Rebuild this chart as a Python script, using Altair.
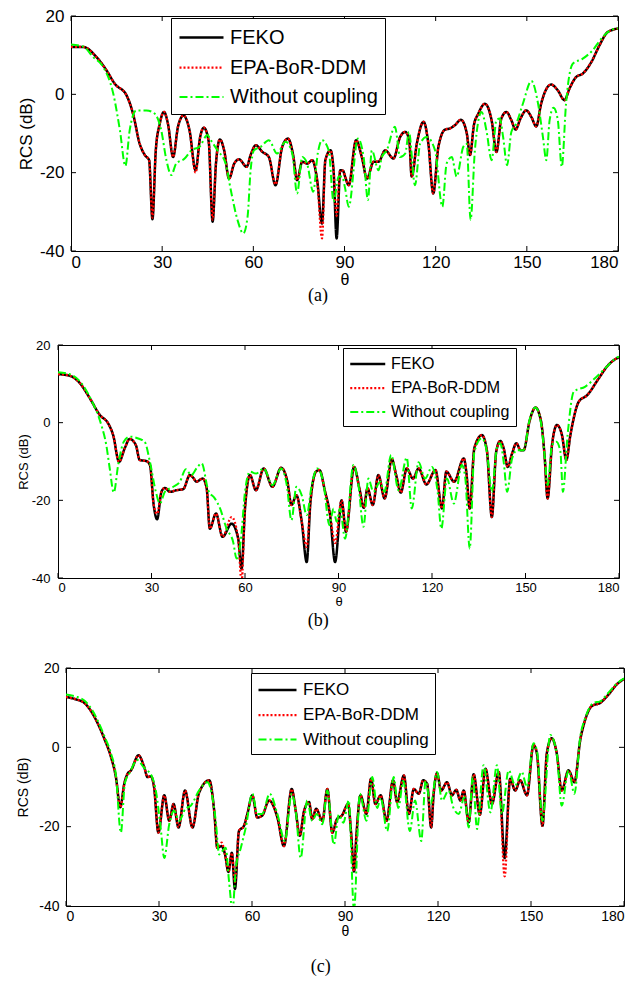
import altair as alt
import pandas as pd

SERIES = ["FEKO", "EPA-BoR-DDM", "Without coupling"]
COLORS = ["#000000", "#ff0000", "#00ff00"]
DASHES = [[1, 0], [2, 2], [8, 3, 2, 3]]
WIDTHS = [2.5, 2, 2]
X_TICKS = [0, 30, 60, 90, 120, 150, 180]
Y_TICKS = [-40, -20, 0, 20]

# ---------------- panel (a) ----------------
a_theta = [0, 4, 8.4, 11.7, 14.4, 18.3, 20.4, 22.6, 24.3, 25.7, 26.8, 27.9, 29.2, 30.6, 31.9, 33.6, 35.2, 37, 39, 41,
           42.5, 43.7, 45.3, 46.6, 47.7, 49, 50.4, 52, 53.7, 55.3, 57.8, 59.1, 60.8, 63, 65.1, 67.3, 69.5, 71.4, 73.1,
           74.4, 76.1, 77.7, 79.4, 81, 82.6, 83.7, 85.4, 86.4, 87.4, 88.6, 89.5, 90.2, 91.4, 93.8, 95.7, 97.4, 99.6,
           101.2, 103.4, 106.1, 108.3, 110, 111.3, 112.1, 113.8, 116, 117.6, 119.2, 120.9, 123.1, 124.7, 126.3, 128.3,
           130.2, 131.3, 132.6, 134, 136.2, 138.4, 140, 141.6, 143.3, 144.9, 146.3, 147.9, 149.8, 151.5, 153.1, 154.7,
           158, 160.2, 162.4, 164, 166.2, 168.4, 171.2, 173.9, 176.1, 178.3, 180]
a_feko = [12.1, 12.1, 9.5, 6.1, 2.7, -0.3, -4.9, -12.6, -15.5, -16.8, -31.9, -14.3, -7.5, -4.5, -7.5, -16, -8.3, -5.4,
          -9.2, -19.4, -10.9, -8.5, -12, -32.5, -17.7, -11.5, -14.3, -21.5, -17.7, -16.6, -18.5, -15.5, -13, -14.7, -16,
          -23.2, -13.4, -11.3, -15.5, -21.9, -17.2, -17.7, -16.8, -21.9, -33, -16.8, -14.3, -19.4, -36.8, -19.4, -19.5,
          -21, -23.2, -11.7, -16, -21.5, -17.2, -17.2, -14.3, -16.4, -10.9, -9.6, -11.7, -21, -12.6, -7, -12.6, -25.3,
          -13.4, -9, -8.7, -7.9, -6.5, -9.8, -15.5, -7.8, -5, -2.4, -6.6, -14.7, -6.2, -4.5, -6.6, -9, -6.2, -4.1, -5.8,
          -8.2, -2.4, 2.5, 1, -1.5, 1.4, 4.4, 5.3, 8.2, 12.5, 15.5, 16.5, 16.8]
a_epa = [12.1, 12.1, 9.5, 6.1, 2.7, -0.3, -4.9, -12.6, -15.5, -16.8, -31.5, -14.3, -7.5, -4.5, -7.5, -16, -8.3, -5.4,
         -9.2, -20, -10.9, -8.5, -12, -32, -17.7, -11.5, -14.3, -21.5, -17.7, -16.6, -18.5, -15.5, -13, -14.7, -16,
         -23, -13.4, -11.3, -15.5, -21.9, -17.2, -17.7, -16.8, -21.9, -36.8, -16.8, -14.3, -19.4, -31, -19.4, -19.5,
         -21, -23.2, -11.7, -16, -21.5, -17.2, -17.2, -14.3, -16.4, -10.9, -9.6, -11.7, -21, -12.6, -7, -12.6, -25.3,
         -13.4, -9, -8.7, -7.9, -6.5, -9.8, -15.5, -7.8, -5, -2.4, -6.6, -14.7, -6.2, -4.5, -6.6, -9, -6.2, -4.1, -5.8,
         -8.2, -2.4, 2.5, 1, -1.5, 1.4, 4.4, 5.3, 8.2, 12.5, 15.5, 16.5, 16.8]
a_wc_theta = [0, 4, 7.3, 10.6, 13.9, 16.1, 17.9, 19.3, 21.5, 24.8, 27.5, 29.7, 31.4, 33, 34.6, 37.4, 39.6, 42.3, 44.9,
              46, 48.2, 50.9, 52.6, 54.8, 56.7, 58.1, 59.1, 60.2, 62.4, 65.1, 67.8, 70.6, 72.8, 74.4, 76.1, 77.7, 79.7,
              81.2, 82.6, 84.8, 86.4, 88.1, 89.2, 90.2, 91.4, 94.4, 96.3, 97.7, 99, 101.2, 102.3, 103.9, 106.6, 108.3,
              110, 111.2, 113.2, 114.9, 117, 119.8, 122.2, 123.6, 125.3, 126.9, 129.1, 130.2, 131.5, 132.9, 135.1,
              136.7, 138.4, 140, 141.1, 142.2, 143.5, 144.9, 146.5, 148.7, 151.5, 153.7, 155.3, 156.4, 157.5, 158.8,
              160.2, 161.5, 162.9, 165.1, 168.4, 171.6, 174.9, 178.2, 180]
a_wc = [12.7, 12.2, 9.5, 7, 0.2, -9.2, -18.3, -9.2, -4.1, -4.1, -4.9, -9.2, -16.8, -20.6, -17.7, -16.4, -14.3, -13.4,
        -10.4, -11.7, -14.3, -17.7, -24.5, -32.1, -35.5, -31.3, -19.4, -14.3, -13.4, -11.7, -15.1, -12.1, -15.1, -25.3,
        -16, -17.7, -24.9, -15.1, -11.7, -14.3, -27.4, -21, -21, -24, -28.7, -11.3, -16, -27, -14.3, -19.4, -16, -14.3,
        -8.3, -16, -15.1, -9.6, -23.2, -12.6, -10.9, -14.3, -28.7, -17.7, -16, -21, -13.4, -12.6, -32, -14.3, -4.5,
        -9.2, -16.8, -6.6, -6.2, -10.9, -18.1, -9.6, -7.5, -2.4, 3.4, -2.4, -10.9, -16.8, -6.6, -3.4, -6.6, -18.5,
        -2.4, 7.8, 9.1, 11.2, 14.6, 16.6, 16.8]

# ---------------- panel (b) ----------------
b_theta = [0, 3.7, 7, 10.2, 13.4, 16.1, 17.7, 19.6, 21.4, 23, 25, 26.2, 28.4, 29.5, 30.7, 31.8, 33.2, 34.3, 35.9, 38,
           40.2, 42.3, 43.4, 44.4, 46.4, 47.7, 48.7, 50.7, 52.8, 55.7, 57.8, 58.9, 60, 61.6, 63.5, 66, 68.8, 71.6,
           73.6, 74.9, 76.5, 78.2, 79.8, 81, 82.8, 83.9, 85.7, 87.3, 88.9, 91, 92.4, 95, 96.7, 98.1, 99.3, 101, 102.8,
           104.8, 107.1, 108.5, 110, 111.9, 113.9, 115.7, 118.2, 121.1, 123.2, 124.6, 127.1, 130.2, 131, 132.1, 133.6,
           136, 137.6, 139.2, 140.6, 141.9, 143, 144.3, 145.7, 147.1, 148.4, 149.4, 151.3, 153.2, 155, 156.1, 157.1,
           158.5, 160.1, 161.7, 163.1, 164.4, 167.1, 169.8, 173.5, 176.2, 179.4, 180]
b_feko = [12.5, 12.1, 10.2, 6.3, 2, -0.2, -3.2, -10.1, -6.6, -4.2, -5.8, -9.6, -9.9, -10.9, -21.2, -24.9, -17.8, -16.8,
          -17.8, -17.4, -17.1, -13.5, -14.2, -15.2, -14.4, -16.9, -27.3, -23.4, -29.4, -26, -29.8, -37.6, -22.1, -13.5,
          -17.4, -11.8, -16.5, -11.6, -15.2, -21.2, -18.7, -25.5, -35.9, -20.4, -12.6, -12.2, -17.8, -23.8, -35.9, -20,
          -28.1, -11.4, -16.9, -21.9, -16.9, -21.2, -13.5, -19.5, -9.4, -13.5, -18, -11.8, -14.4, -11.8, -15.9, -12.2,
          -22.1, -12.6, -15.2, -9.2, -12.6, -22.1, -6.5, -3.2, -7.1, -24.3, -7.5, -4.7, -6.6, -11.4, -7.9, -5.3, -7.1,
          -7.1, 0.4, 3.9, 0.3, -8.3, -19.5, -5.8, -0.6, -3.2, -9.6, -3.2, 5.4, 7.1, 11.4, 14.5, 16.6, 16.8]
b_epa = [12.5, 12.1, 10.2, 6.3, 2, -0.2, -3.2, -10.1, -6.6, -4.2, -5.8, -9.6, -9.9, -10.9, -21.2, -23.5, -17.8, -16.8,
         -17.8, -17.4, -17.1, -13.5, -14.2, -15.2, -14.4, -16.9, -27.3, -23.4, -29.4, -24.3, -29.8, -41, -22.1, -13.5,
         -17.4, -11.8, -16.5, -11.6, -15.2, -21.2, -18.7, -25.5, -32, -20.4, -12.6, -12.2, -17.8, -23.8, -31, -20,
         -28.1, -11.4, -16.9, -21.9, -16.9, -21.2, -13.5, -19.5, -9.4, -13.5, -18, -11.8, -14.4, -11.8, -15.9, -12.2,
         -22.1, -12.6, -15.2, -9.2, -12.6, -22.1, -6.5, -3.2, -7.1, -24.3, -7.5, -4.7, -6.6, -11.4, -7.9, -5.3, -7.1,
         -7.1, 0.4, 3.9, 0.3, -8.3, -19.5, -5.8, -0.6, -3.2, -9.6, -3.2, 5.4, 7.1, 11.4, 14.5, 16.6, 16.8]
b_wc_theta = [0, 4.3, 7.5, 10.7, 13.9, 15.5, 16.6, 17.9, 19.3, 21.1, 23, 26.2, 27.8, 29.5, 31.4, 32.7, 34.3, 37, 39.1,
              41, 42.8, 44.4, 46.1, 48.2, 50.3, 52, 54.1, 56.2, 57.3, 58.6, 60, 61.6, 63.5, 66, 68.8, 71.6, 73.4, 74.9,
              76.5, 78.2, 79.8, 81.4, 83.2, 85.1, 87.1, 88.4, 89.4, 90.5, 92.1, 94.8, 96.4, 98, 99.6, 101.2, 103.4,
              104.7, 106.9, 109.3, 111.9, 113.5, 115.7, 117.8, 120, 121.8, 123, 124.8, 127, 129.6, 130.7, 132.1, 133.6,
              136, 137.6, 139.2, 140.8, 141.9, 143, 144.1, 145.7, 147.3, 149.4, 151.3, 153.2, 155, 156.1, 157.1, 158.5,
              159.9, 161.2, 162, 163.5, 165.5, 169.2, 172.9, 176.2, 179.4, 180]
b_wc = [13, 12.3, 10.2, 5.8, -0.6, -5.8, -11.8, -18, -10.9, -4.9, -3.6, -4.2, -4.9, -10.1, -17.8, -20.8, -17.8, -16.5,
        -15.2, -12, -13.5, -11.8, -10.5, -17.4, -19.5, -22.1, -27.3, -30.7, -35, -30.7, -17.8, -12.6, -13.1, -11.8,
        -16.1, -11.8, -16.1, -25.1, -16.5, -18.7, -23.8, -16.1, -11.8, -15.2, -26.4, -22.1, -25.5, -22.1, -29.9, -10.9,
        -16.1, -26.8, -14.4, -17.8, -15.2, -17.8, -8.3, -17.4, -9, -22.1, -10.2, -14.4, -11.4, -17.8, -27.3, -14.4,
        -20.8, -10.9, -14.4, -32.4, -7.5, -4, -7.5, -17.8, -6.6, -5.3, -10.1, -17.8, -9.2, -7.1, -7.1, 0.7, 3.9, -0.2,
        -8.3, -16.1, -5.8, -4.9, -7.5, -17.8, -3.2, 8, 9.3, 11.9, 14.5, 16.8, 17]

# ---------------- panel (c) ----------------
c_theta = [0, 3.2, 5.9, 8.1, 10.2, 12.3, 14.5, 16.1, 17.5, 18.8, 19.9, 20.9, 23.4, 25.2, 26.3, 27.4, 28.4, 29.8, 31.7,
           33.3, 34.7, 36.3, 38.4, 40.8, 42.9, 46.2, 47.8, 48.8, 50.2, 51.3, 52.4, 53.5, 54.5, 55.8, 57.4, 58.5, 60.1,
           61.7, 63.3, 65.5, 68.2, 70.3, 72.8, 74.1, 75.4, 76.8, 78.4, 79.4, 80.7, 82.7, 84.3, 85.9, 87.4, 89, 91, 92,
           92.9, 93.7, 95, 96.9, 98.4, 99.8, 101.5, 103.4, 105.5, 106.8, 109, 110.6, 112.2, 113.8, 115.2, 116.5, 117.8,
           118.6, 119.7, 121, 122.9, 124.5, 125.9, 127.2, 128.3, 129.9, 131.5, 133.5, 135.3, 137.4, 139.6, 141.5,
           143.3, 144.9, 146.5, 148.7, 150.8, 151.9, 153.7, 155.1, 156.7, 158.3, 159.9, 162.1, 164, 165.9, 167.5,
           169.6, 172.3, 175, 177.7, 180]
c_feko = [12.7, 12.1, 11.2, 9.1, 6.1, 2.3, -2.4, -7.5, -15.1, -9.2, -6.6, -5.9, -2, -4.9, -7.5, -7.3, -10, -21.5, -12.1,
          -18.5, -14.3, -20.2, -10.9, -20.2, -11.5, -8.3, -16, -25.3, -24.9, -27, -31.4, -26.6, -35.7, -21.1, -19.8,
          -16.8, -12.1, -17.7, -17.2, -13.4, -17.7, -24.9, -10.5, -16, -22.3, -16, -13.8, -18.1, -15.5, -18.5, -10.5,
          -21.5, -18.1, -17.2, -14.3, -21.9, -31.3, -21.9, -12.1, -16.8, -7.9, -14.3, -12.1, -18.5, -8.3, -13.8, -7.1,
          -16.8, -10.5, -11.7, -8.3, -9.2, -20.2, -11.7, -6.5, -10.9, -8.8, -12.1, -10.7, -13.4, -10.9, -18.9, -6.8,
          -17, -5.4, -14.3, -6.2, -27.9, -7.9, -10.9, -8.3, -12.1, 0.6, -1.5, -19.8, -1.5, 2.3, -1.5, -10.9, -5.8,
          -8.8, 1.9, 7, 10.4, 11.2, 13.3, 15.9, 17.2]
c_epa = [12.7, 12.1, 11.2, 9.1, 6.1, 2.3, -2.4, -7.5, -15.1, -9.2, -6.6, -5.9, -2, -4.9, -7.5, -7.3, -10, -21.5, -12.1,
         -18.5, -14.3, -20.2, -10.9, -20.2, -11.5, -8.3, -16, -25.3, -24, -27, -31.4, -26.6, -34, -21.1, -19.8,
         -16.8, -12.1, -17.7, -17.2, -13.4, -17.7, -24.9, -10.5, -16, -22.3, -16, -13.8, -18.1, -15.5, -18.5, -10.5,
         -21.5, -18.1, -17.2, -14.3, -21.9, -31.3, -21.9, -12.1, -16.8, -7.9, -14.3, -12.1, -18.5, -8.3, -13.8, -7.1,
         -16.8, -10.5, -11.7, -8.3, -9.2, -20.2, -11.7, -6.5, -10.9, -8.8, -12.1, -10.7, -13.4, -10.9, -18.9, -6.8,
         -17, -5.4, -14.3, -6.2, -32.5, -7.9, -10.9, -8.3, -12.1, 0.6, -1.5, -19.8, -1.5, 2.3, -1.5, -10.9, -5.8,
         -8.8, 1.9, 7, 10.4, 11.2, 13.3, 15.9, 17.2]
c_wc_theta = [0, 3.2, 5.9, 8.1, 10.2, 12.3, 14.5, 16.1, 17.7, 19, 20.5, 23, 25, 27.8, 29, 30.5, 31.7, 33.3, 34.9, 36.5,
              38.5, 40.3, 42.9, 45.6, 48.3, 49.4, 51.5, 52.6, 53.7, 54.8, 56.4, 58, 60.1, 61.7, 63.3, 65.7, 68.2, 70.6,
              72.8, 74.1, 75.7, 77.8, 79.4, 80.9, 82.7, 84.3, 86.4, 88, 89.5, 91.2, 92.9, 94.8, 96.9, 98.8, 100.4,
              101.5, 103.6, 105.7, 107.2, 108.8, 110.9, 112.6, 114.6, 116, 117.6, 119.7, 121.3, 123.4, 125, 126.7,
              128.5, 129.9, 131.2, 132.6, 134.7, 136.9, 139, 140.6, 142.8, 144.9, 147, 148.7, 150.8, 151.9, 153.7,
              156.2, 158.3, 159.9, 162.1, 164, 165.9, 167.5, 170.2, 172.3, 175, 177.7, 180]
c_wc = [13.3, 12.8, 11.8, 9.8, 6.8, 3, -1.5, -7, -21.5, -9, -6.5, -3.2, -5, -7.5, -11, -20, -27.9, -19.4, -16, -18.5,
        -15.5, -14.7, -10.9, -8.8, -18.5, -27, -25.3, -33.8, -41, -30.4, -25.3, -20.2, -11.7, -16.8, -16.8, -11.7,
        -16.8, -23.6, -11.7, -16, -27.9, -13.4, -18.5, -16.8, -19.4, -10.9, -24.5, -17, -19, -13.4, -41, -11.7,
        -18.5, -7.5, -15.3, -12.7, -21.1, -7.5, -15.3, -8.5, -21.1, -13.4, -23.6, -8.5, -14.3, -6.2, -13.4, -10.9,
        -15.3, -16.8, -12.6, -20.2, -7.5, -20.6, -4.5, -16.4, -4.5, -16.8, -5.8, -9.6, -6.2, -10, 1, -0.7, -18.5, 3.1,
        -1.5, -14.7, -5.8, -11.7, 2.7, 7.4, 11.2, 11.6, 13.8, 16.1, 17.4]

SANS = "Liberation Sans"
SERIF = "Liberation Serif"


def panel(theta, feko, epa, wc_theta, wc, W, H, st, leg, cap):
    rows = []
    for t, v in zip(theta, feko):
        rows.append({"theta": t, "rcs": v, "series": SERIES[0]})
    for t, v in zip(theta, epa):
        rows.append({"theta": t, "rcs": v, "series": SERIES[1]})
    for t, v in zip(wc_theta, wc):
        rows.append({"theta": t, "rcs": v, "series": SERIES[2]})
    df = pd.DataFrame(rows)

    x = alt.X("theta:Q", scale=alt.Scale(domain=[0, 180], nice=False, zero=False),
              axis=alt.Axis(values=X_TICKS, title="θ", ticks=False, domain=False, grid=False,
                            labelFont=SANS, labelFontSize=st["fs"], labelPadding=st["xlp"], labelColor="black",
                            titleFont=SANS, titleFontSize=st["xtfs"], titleFontWeight="normal",
                            titlePadding=st["xtp"], titleColor="black", labelExpr="'' + datum.value"))
    y = alt.Y("rcs:Q", scale=alt.Scale(domain=[-40, 20], nice=False, zero=False),
              axis=alt.Axis(values=Y_TICKS, title="RCS (dB)", ticks=False, domain=False, grid=False,
                            labelFont=SANS, labelFontSize=st["fs"], labelPadding=st["ylp"], labelColor="black",
                            titleFont=SANS, titleFontSize=st["ytfs"], titleFontWeight="normal",
                            titlePadding=st["ytp"], titleColor="black", labelExpr="'' + datum.value"))
    legend = alt.Legend(title=None, orient="none", legendX=leg["x"], legendY=leg["y"], direction="vertical",
                        symbolType="M-1,0H3", symbolSize=leg["ss"], labelFont=SANS, labelFontSize=leg["fs"],
                        labelColor="black", labelLimit=400, strokeColor="black", fillColor="white",
                        padding=leg["pad"], rowPadding=leg["rp"], labelOffset=leg["lo"])
    color = alt.Color("series:N", scale=alt.Scale(domain=SERIES, range=COLORS), legend=legend)
    dash = alt.StrokeDash("series:N", scale=alt.Scale(domain=SERIES, range=DASHES), legend=legend)
    sw = alt.StrokeWidth("series:N", scale=alt.Scale(domain=SERIES, range=WIDTHS), legend=legend)

    base = alt.Chart(df)
    layers = []
    for s in SERIES:
        layers.append(base.transform_filter(alt.datum.series == s)
                      .mark_line(clip=True, interpolate="monotone")
                      .encode(x=x, y=y, color=color, strokeDash=dash, strokeWidth=sw))

    ydf = pd.DataFrame({"rcs": Y_TICKS})
    xdf = pd.DataFrame({"theta": X_TICKS})
    tl = alt.Chart(ydf).mark_rule(color="black", strokeWidth=1).encode(y=y, x=alt.value(0), x2=alt.value(5))
    tr = alt.Chart(ydf).mark_rule(color="black", strokeWidth=1).encode(y=y, x=alt.value(W - 5), x2=alt.value(W))
    tb = alt.Chart(xdf).mark_rule(color="black", strokeWidth=1).encode(x=x, y=alt.value(H - 5), y2=alt.value(H))
    tt = alt.Chart(xdf).mark_rule(color="black", strokeWidth=1).encode(x=x, y=alt.value(0), y2=alt.value(5))

    inner = alt.layer(tl, tr, tb, tt, *layers).properties(
        width=W, height=H,
        title=alt.Title(cap["text"], orient="bottom", anchor="middle", frame="bounds", font=SERIF,
                        fontSize=18, fontWeight="normal", color="black", offset=cap["off"],
                        subtitle=" ", subtitleFontSize=cap["fill"], subtitlePadding=0))
    # an invisible narrow spacer on the left lets each panel keep its own left offset
    spacer = alt.Chart(pd.DataFrame({"s": [0]})).mark_point(opacity=0).properties(
        width=st["sp"], height=10, view=alt.ViewBackground(stroke="transparent"))
    return alt.hconcat(spacer, inner, spacing=0)


pa = panel(a_theta, a_feko, a_epa, a_wc_theta, a_wc, 547, 235,
           {"fs": 17, "xtfs": 16, "ytfs": 17, "xlp": 3, "xtp": 1, "ylp": 7, "ytp": 4, "sp": 4},
           {"x": 161, "y": 2, "ss": 484, "fs": 20, "pad": 7, "rp": 7, "lo": 27},
           {"text": "(a)", "off": 0, "fill": 6})
pb = panel(b_theta, b_feko, b_epa, b_wc_theta, b_wc, 561, 233,
           {"fs": 13, "xtfs": 13, "ytfs": 13, "xlp": 3, "xtp": 1, "ylp": 8, "ytp": 1, "sp": 4},
           {"x": 333, "y": 3, "ss": 306, "fs": 16, "pad": 6, "rp": 6, "lo": 22},
           {"text": "(b)", "off": 4, "fill": 3},)
pc = panel(c_theta, c_feko, c_epa, c_wc_theta, c_wc, 558, 238,
           {"fs": 14, "xtfs": 14, "ytfs": 14, "xlp": 3, "xtp": 1, "ylp": 7, "ytp": 8, "sp": 4},
           {"x": 241, "y": 5, "ss": 361, "fs": 17, "pad": 6, "rp": 6, "lo": 24},
           {"text": "(c)", "off": 20, "fill": 1})

chart = alt.vconcat(pa, pb, pc, spacing=26).resolve_scale(
    color="independent", strokeDash="independent", strokeWidth="independent"
).resolve_legend(
    color="independent", strokeDash="independent", strokeWidth="independent"
).properties(
    padding={"left": 0, "top": -2, "right": 0, "bottom": 0}
).configure_view(stroke="black", strokeWidth=1)

chart.save("out.html", embed_options={"renderer": "svg", "actions": False})
